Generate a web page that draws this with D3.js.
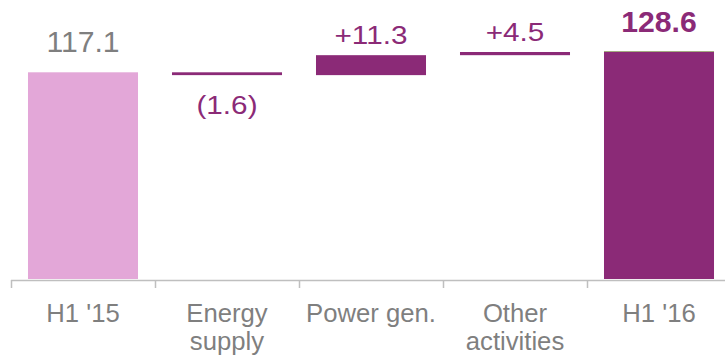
<!DOCTYPE html>
<html>
<head>
<meta charset="utf-8">
<script src="https://cdn.jsdelivr.net/npm/d3@7"></script>
<style>
	body { margin: 0; background: #fff; }
	svg { display: block; font-family: "Liberation Sans", Arial, sans-serif; }
</style>
</head>
<body>
<div id="chartContainer"></div>
<script>
// categories (each line of a label is its own entry)
var categories = ["H1 '15", "Energy supply", "Power gen.", "Other activities", "H1 '16"]
var categoryLines = [["H1 '15"], ["Energy", "supply"], ["Power gen."], ["Other", "activities"], ["H1 '16"]]

// waterfall extents (bottom and top of each bar)
var barLow = [0, 115.5, 115.5, 126.8, 0]
var barHigh = [117.1, 117.1, 126.8, 128.6, 128.6]
var barKind = ["total", "down", "up", "up", "final"]

// printed value labels
var valueLabels = ["117.1", "(1.6)", "+11.3", "+4.5", "128.6"]

var width = 725
var height = 355
var purple = "#8b2a77"
var pink = "#e3a7d8"
var grey = "#7f7f7f"

var svg = d3.select("#chartContainer").append("svg")
	.attr("width", width)
	.attr("height", height)

var x = d3.scaleBand()
	.domain(categories)
	.range([11, 731])
	.paddingInner(0.236)
	.paddingOuter(0.118)

var y = d3.scaleLinear()
	.domain([0, 128.6])
	.range([279, 52])

var data = categories.map(function(c, i) {
	return {cat: c, lines: categoryLines[i], low: barLow[i], high: barHigh[i], kind: barKind[i], label: valueLabels[i]}
})

// bars
svg.append("g")
	.selectAll("rect")
	.data(data)
	.enter().append("rect")
		.attr("x", d => x(d.cat))
		.attr("width", x.bandwidth())
		.attr("y", d => y(d.high))
		.attr("height", d => y(d.low) - y(d.high))
		.attr("fill", d => d.kind == "total" ? pink : purple)

// thin olive edge on top of the final bar
var last = data[data.length - 1]
svg.append("line")
	.attr("x1", x(last.cat))
	.attr("x2", x(last.cat) + x.bandwidth())
	.attr("y1", y(last.high) - 0.5)
	.attr("y2", y(last.high) - 0.5)
	.attr("stroke", "#a3ab80")
	.attr("stroke-width", 1)

// axis line and boundary ticks
var axisY = 280
svg.append("line")
	.attr("x1", x.range()[0])
	.attr("x2", width)
	.attr("y1", axisY + 0.5)
	.attr("y2", axisY + 0.5)
	.attr("stroke", "#bfbfbf")
	.attr("stroke-width", 1.5)

svg.append("g")
	.selectAll("line")
	.data(categories)
	.enter().append("line")
		.attr("x1", d => Math.round(x(d) - x.step() * x.paddingOuter()) + 0.5)
		.attr("x2", d => Math.round(x(d) - x.step() * x.paddingOuter()) + 0.5)
		.attr("y1", axisY)
		.attr("y2", axisY + 8)
		.attr("stroke", "#bfbfbf")
		.attr("stroke-width", 1.5)

// category labels
var catText = svg.append("g")
	.selectAll("text")
	.data(data)
	.enter().append("text")
		.attr("text-anchor", "middle")
		.attr("fill", grey)
		.style("font-size", "25.7px")

catText.selectAll("tspan")
	.data(d => d.lines.map(l => ({line: l, cx: x(d.cat) + x.bandwidth() / 2})))
	.enter().append("tspan")
		.attr("x", d => d.cx)
		.attr("y", (d, i) => 321.5 + i * 28.5)
		.text(d => d.line)

// value labels
function labelY(d) {
	if (d.kind == "down") return y(d.low) + 38.5
	if (d.kind == "up") return y(d.high) - 11
	return y(d.high) - 20
}

svg.append("g")
	.selectAll("text")
	.data(data)
	.enter().append("text")
		.attr("text-anchor", "middle")
		.attr("transform", function(d) {
			var sx = (d.kind == "up" || d.kind == "down") ? 1.16 : 1.04
			return "translate(" + (x(d.cat) + x.bandwidth() / 2) + "," + labelY(d) + ") scale(" + sx + ",1)"
		})
		.attr("fill", d => d.kind == "total" ? grey : purple)
		.style("font-size", d => (d.kind == "total" || d.kind == "final") ? "29px" : "25.6px")
		.style("font-weight", d => d.kind == "final" ? "bold" : "normal")
		.text(d => d.label)
</script>
</body>
</html>
